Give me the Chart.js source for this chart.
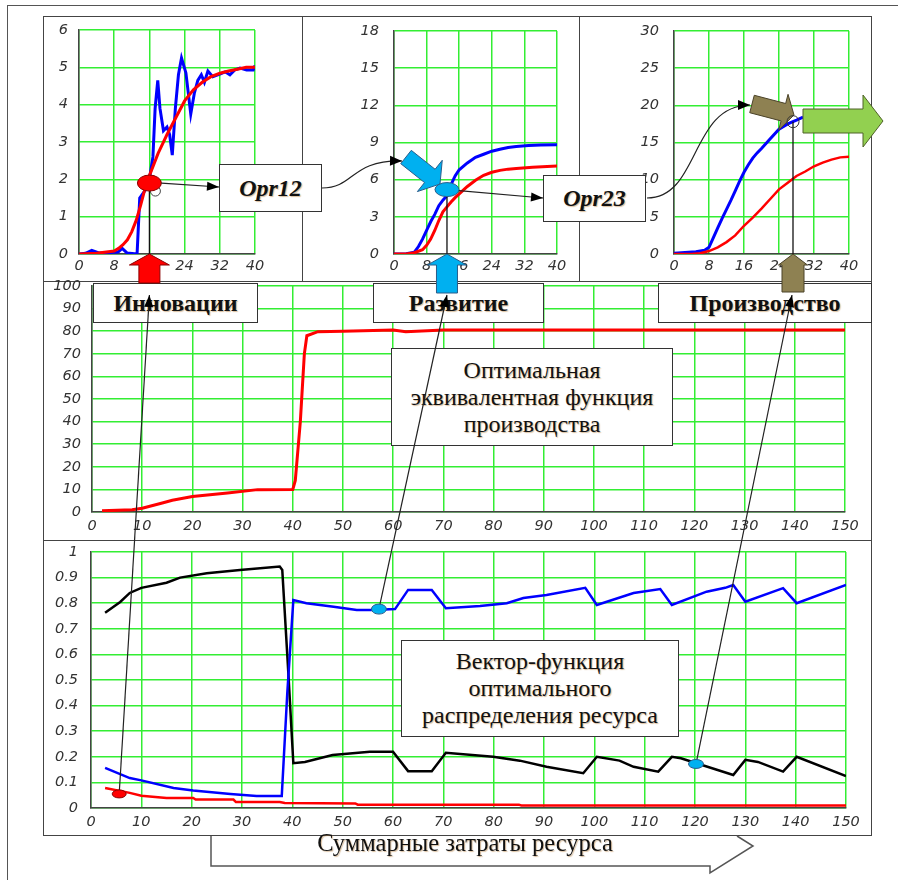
<!DOCTYPE html>
<html>
<head>
<meta charset="utf-8">
<script src="https://cdn.jsdelivr.net/npm/chart.js@4/dist/chart.umd.min.js"></script>
<style>
  body { margin: 0; background: #fff; width: 898px; height: 880px; position: relative; overflow: hidden; }
  .frame { position: absolute; border: 1.5px solid #444; box-sizing: border-box; background: #fff; }
  .box { position: absolute; border: 1.5px solid #333; box-sizing: border-box; background: #fff;
         display: flex; align-items: center; justify-content: center; text-align: center;
         font-family: 'Liberation Serif', 'Times New Roman', serif; color: #111;
         text-shadow: 1px 1px 1px rgba(170, 110, 40, 0.45); }
  .bold { font-weight: bold; font-size: 24px; }
  .opr { font-weight: bold; font-style: italic; font-size: 24px; }
  .note { font-size: 24px; line-height: 27px; }
  canvas { position: absolute; }
</style>
</head>
<body>
<div class="frame" style="left:7px;top:5px;width:900px;height:900px;border-color:#555"></div>
<div class="frame" style="left:43px;top:16px;width:260px;height:266px"></div>
<div class="frame" style="left:302px;top:16px;width:278px;height:266px"></div>
<div class="frame" style="left:579px;top:16px;width:293px;height:266px"></div>
<div class="frame" style="left:43px;top:281px;width:829px;height:260px"></div>
<div class="frame" style="left:43px;top:540px;width:829px;height:296px"></div>

<div id="charts"></div>

<div class="box opr" style="left:219px;top:164px;width:103px;height:48px">Opr12</div>
<div class="box opr" style="left:543px;top:175px;width:103px;height:47px">Opr23</div>
<div class="box bold" style="left:93px;top:283px;width:165px;height:40px">Инновации</div>
<div class="box bold" style="left:373px;top:283px;width:171px;height:40px">Развитие</div>
<div class="box bold" style="left:658px;top:283px;width:214px;height:40px">Производство</div>
<div class="box note" style="left:391px;top:348px;width:282px;height:98px">Оптимальная<br>эквивалентная функция<br>производства</div>
<div class="box note" style="left:401px;top:640px;width:278px;height:97px">Вектор-функция<br>оптимального<br>распределения ресурса</div>
<div style="position:absolute;left:205px;top:829px;width:520px;height:28px;line-height:28px;text-align:center;font-family:'Liberation Serif','Times New Roman',serif;font-size:24.5px;color:#111;text-shadow:1px 1px 1px rgba(170,110,40,0.45)">Суммарные затраты ресурса</div>

<canvas id="overlay" width="898" height="880" style="left:0;top:0"></canvas>

<script>
// Innovation stage (top left)
const innovRedX = [0, 4, 8, 9, 10, 11, 12, 13, 14, 15, 16, 17, 18, 19, 20, 22, 24, 26, 28, 30, 32, 34, 36, 38, 40];
const innovRed = [0, 0.02, 0.08, 0.15, 0.25, 0.38, 0.6, 0.9, 1.3, 1.75, 2.1, 2.4, 2.7, 2.95, 3.2, 3.65, 4.1, 4.4, 4.6, 4.75, 4.84, 4.9, 4.95, 5.0, 5.0];
const innovBlueX = [0, 1.5, 2.9, 4.5, 7, 8.9, 9.8, 10.9, 13.2, 13.8, 15, 16, 16.8, 17.3, 17.9, 18.4, 19.2, 20, 20.6, 21.2,
                    21.9, 22.6, 23.3, 24.3, 25.4, 26.2, 27, 27.8, 28.5, 29.3, 30.4, 32, 33.2, 34.3, 35.4, 36.6, 38.1, 39.6, 40];
const innovBlue = [0, 0.02, 0.1, 0.03, 0.04, 0.05, 0.15, 0.03, 0, 1.5, 1.7, 2.0, 2.6, 3.9, 4.65, 3.9, 3.3, 3.4, 3.2, 2.65,
                   3.9, 4.8, 5.25, 4.85, 3.75, 4.3, 4.65, 4.8, 4.6, 4.9, 4.75, 4.82, 4.88, 4.8, 4.93, 4.98, 4.93, 4.93, 5.05];

// Development stage (top middle)
const devBlueX = [0, 3, 5, 6, 7, 8, 9, 10, 11, 12, 13, 14, 15, 16, 18, 20, 22, 24, 26, 28, 30, 33, 36, 40];
const devBlue = [0, 0.02, 0.15, 0.6, 1.2, 1.9, 2.6, 3.2, 3.9, 4.35, 4.7, 5.6, 6.3, 6.8, 7.35, 7.8, 8.05, 8.3, 8.45, 8.6, 8.68, 8.75, 8.8, 8.82];
const devRedX = [0, 3, 5, 7, 8, 9, 10, 11, 12, 13, 14, 15, 16, 17, 18, 20, 22, 24, 26, 28, 30, 34, 40];
const devRed = [0, 0, 0.1, 0.35, 0.7, 1.2, 1.9, 2.7, 3.4, 3.8, 4.2, 4.55, 4.85, 5.15, 5.45, 5.95, 6.35, 6.6, 6.75, 6.85, 6.9, 7.0, 7.1];

// Production stage (top right)
const prodBlueX = [0, 5, 7, 8, 9, 10, 11, 12, 13, 14, 15, 16, 17, 18, 19, 20, 22, 24, 26, 28, 29.5];
const prodBlue = [0.1, 0.3, 0.5, 0.9, 2.2, 3.5, 4.8, 6.0, 7.2, 8.5, 9.8, 11.0, 12.0, 12.9, 13.6, 14.2, 15.5, 16.8, 17.5, 18.0, 18.4];
const prodRedX = [0, 4, 6, 8, 10, 12, 14, 16, 18, 20, 22, 24, 26, 28, 30, 32, 34, 36, 38, 40];
const prodRed = [0, 0, 0.1, 0.4, 0.9, 1.6, 2.5, 3.8, 4.9, 6.1, 7.4, 8.7, 9.6, 10.5, 11.1, 11.8, 12.3, 12.7, 13.0, 13.1];

// Equivalent production function (middle)
const equivX = [2, 8, 10, 14, 16, 20, 27, 33, 40, 40.5, 41.5, 42.3, 42.8, 45, 50, 60, 62.5, 70, 150];
const equiv = [0.5, 1, 1.7, 4, 5.2, 6.9, 8.4, 9.9, 10, 14, 40, 70, 78, 79.8, 80, 80.5, 79.8, 80.5, 80.5];

// Resource distribution vector (bottom)
const distBlackX = [2.8, 5.8, 7.7, 10, 15, 17.7, 23, 29.6, 37.5, 38, 39.2, 40.2, 42.5, 48, 55.4, 60, 63, 67.7, 70.5, 79.9,
                    85.2, 90.5, 97.8, 100.5, 105, 107.8, 112.7, 115.4, 117.2, 127.6, 130, 132.5, 137.5, 140.2, 150];
const distBlack = [0.763, 0.805, 0.84, 0.86, 0.88, 0.9, 0.917, 0.93, 0.943, 0.93, 0.53, 0.175, 0.18, 0.207, 0.22, 0.22, 0.144, 0.144, 0.216, 0.2,
                   0.185, 0.161, 0.136, 0.2, 0.185, 0.161, 0.142, 0.2, 0.194, 0.129, 0.188, 0.18, 0.142, 0.2, 0.125];
const distBlueX = [2.8, 7.7, 10, 16.4, 20.3, 27.7, 32.9, 37.9, 39, 40.2, 42.8, 48.2, 52.8, 55.9, 60.4, 63, 67.7, 70.5, 77.3, 82.6,
                   85.9, 90.5, 98.2, 100.5, 107.8, 113.1, 115.4, 122.3, 126, 127.6, 130, 137.5, 140.2, 150];
const distBlue = [0.157, 0.117, 0.108, 0.078, 0.068, 0.055, 0.047, 0.047, 0.45, 0.812, 0.8, 0.786, 0.773, 0.773, 0.777, 0.852, 0.852, 0.78, 0.789, 0.8,
                  0.82, 0.832, 0.86, 0.793, 0.84, 0.855, 0.793, 0.845, 0.86, 0.871, 0.806, 0.859, 0.8, 0.871];
const distRedX = [2.8, 7.7, 10, 15, 20.3, 20.8, 28.3, 28.8, 37.5, 38.5, 52.5, 53, 85, 85.5, 150];
const distRed = [0.078, 0.059, 0.048, 0.039, 0.039, 0.033, 0.033, 0.023, 0.023, 0.02, 0.018, 0.013, 0.013, 0.01, 0.01];

// highlighted points
const innovMark = [16, 1.9];
const devMark = [13, 5.2];
const prodMark = [27.2, 17.8];
const distMarks = [[5.6, 0.055], [57.2, 0.777], [120.2, 0.172]];

const GRID = '#33ee33';
const TICK_FONT = {family: "'DejaVu Sans', sans-serif", style: 'italic', size: 14.5};

function series(xs, ys, color, width) {
  return {data: xs.map((x, i) => ({x: x, y: ys[i]})), borderColor: color, borderWidth: width,
          pointRadius: 0, tension: 0, fill: false};
}

function makeChart(box, xMax, xStep, yMax, yStep, yPad, datasets) {
  // y tick padding also pads the top of the axis, so leave room for it
  const padT = yPad + 12;
  const cv = document.createElement('canvas');
  cv.width = box.yW + box.w + box.padR;
  cv.height = padT + box.h + box.xH;
  cv.style.left = (box.l - box.yW) + 'px';
  cv.style.top = (box.t - padT) + 'px';
  document.getElementById('charts').appendChild(cv);
  const axis = (max, step, pad, fit) => ({
    type: 'linear', min: 0, max: max,
    ticks: {stepSize: step, font: TICK_FONT, color: '#333', padding: pad, maxRotation: 0, autoSkip: false,
            callback: v => String(Math.round(v * 10) / 10)},
    grid: {color: GRID, lineWidth: 1.5, drawTicks: false},
    border: {color: '#444', width: 1.5},
    afterFit: fit
  });
  return new Chart(cv, {
    type: 'line',
    data: {datasets: datasets},
    options: {
      responsive: false,
      animation: false,
      layout: {padding: {top: padT, right: box.padR, left: 0, bottom: 0}},
      plugins: {legend: {display: false}, tooltip: {enabled: false}},
      scales: {
        x: axis(xMax, xStep, box.xPad, s => { s.height = box.xH; }),
        y: axis(yMax, yStep, yPad, s => { s.width = box.yW; })
      }
    }
  });
}

const chA = makeChart({l: 79, t: 30, w: 176, h: 224, yW: 34, padR: 18, xH: 26, xPad: 4}, 40, 8, 6, 1, 11,
  [series(innovRedX, innovRed, '#ff0000', 3), series(innovBlueX, innovBlue, '#0000ff', 3)]);
const chB = makeChart({l: 394, t: 31, w: 163, h: 223, yW: 54, padR: 20, xH: 26, xPad: 4}, 40, 8, 18, 3, 15,
  [series(devRedX, devRed, '#ff0000', 3), series(devBlueX, devBlue, '#0000ff', 3)]);
const chC = makeChart({l: 674, t: 31, w: 175, h: 223, yW: 54, padR: 20, xH: 26, xPad: 4}, 40, 8, 30, 5, 15,
  [series(prodRedX, prodRed, '#ff0000', 2.5), series(prodBlueX, prodBlue, '#0000ff', 3)]);
const chD = makeChart({l: 92, t: 286, w: 753, h: 226, yW: 46, padR: 24, xH: 26, xPad: 6}, 150, 10, 100, 10, 11,
  [series(equivX, equiv, '#ff0000', 3)]);
const chE = makeChart({l: 91, t: 552, w: 755, h: 256, yW: 45, padR: 24, xH: 26, xPad: 6}, 150, 10, 1, 0.1, 13,
  [series(distRedX, distRed, '#ff0000', 2.5), series(distBlueX, distBlue, '#0000ff', 2.5), series(distBlackX, distBlack, '#000000', 2.5)]);

// ---- annotation layer ----
const g = document.getElementById('overlay').getContext('2d');

function at(ch, x, y) {
  return [parseFloat(ch.canvas.style.left) + ch.scales.x.getPixelForValue(x),
          parseFloat(ch.canvas.style.top) + ch.scales.y.getPixelForValue(y)];
}

function head(from, to, len, w) {
  const a = Math.atan2(to[1] - from[1], to[0] - from[0]);
  const c = Math.cos(a), s = Math.sin(a);
  g.beginPath();
  g.moveTo(to[0], to[1]);
  g.lineTo(to[0] - len * c + w * s, to[1] - len * s - w * c);
  g.lineTo(to[0] - len * c - w * s, to[1] - len * s + w * c);
  g.closePath();
  g.fillStyle = '#000';
  g.fill();
}

function line(a, b, lw, color) {
  g.beginPath();
  g.moveTo(a[0], a[1]);
  g.lineTo(b[0], b[1]);
  g.strokeStyle = color || '#222';
  g.lineWidth = lw;
  g.stroke();
}

function arrow(a, b, lw) {
  line(a, b, lw);
  head(a, b, 12, 4.5);
}

function curveArrow(p0, p1, p2, p3) {
  g.beginPath();
  g.moveTo(p0[0], p0[1]);
  g.bezierCurveTo(p1[0], p1[1], p2[0], p2[1], p3[0], p3[1]);
  g.strokeStyle = '#222';
  g.lineWidth = 1.2;
  g.stroke();
  head(p2, p3, 12, 5);
}

function blockArrow(tail, tip, sw, hw, hl, fill, stroke) {
  const dx = tip[0] - tail[0], dy = tip[1] - tail[1], L = Math.hypot(dx, dy);
  const ux = dx / L, uy = dy / L, nx = -uy, ny = ux;
  const bx = tip[0] - ux * hl, by = tip[1] - uy * hl;
  const pts = [
    [tail[0] + nx * sw / 2, tail[1] + ny * sw / 2], [bx + nx * sw / 2, by + ny * sw / 2],
    [bx + nx * hw / 2, by + ny * hw / 2], tip, [bx - nx * hw / 2, by - ny * hw / 2],
    [bx - nx * sw / 2, by - ny * sw / 2], [tail[0] - nx * sw / 2, tail[1] - ny * sw / 2]
  ];
  g.beginPath();
  pts.forEach((p, i) => i ? g.lineTo(p[0], p[1]) : g.moveTo(p[0], p[1]));
  g.closePath();
  g.fillStyle = fill;
  g.fill();
  g.strokeStyle = stroke;
  g.lineWidth = 1;
  g.stroke();
}

function ellipse(c, rx, ry, fill, stroke) {
  g.beginPath();
  g.ellipse(c[0], c[1], rx, ry, 0, 0, Math.PI * 2);
  if (fill) { g.fillStyle = fill; g.fill(); }
  g.strokeStyle = stroke;
  g.lineWidth = 1;
  g.stroke();
}

const pA = at(chA, innovMark[0], innovMark[1]);
const pA0 = at(chA, innovMark[0], 0);
const pB = at(chB, devMark[0], devMark[1]);
const pB0 = at(chB, devMark[0], 0);
const pC = at(chC, prodMark[0], prodMark[1]);
const pC0 = at(chC, prodMark[0], 0);
const dE = distMarks.map(d => at(chE, d[0], d[1]));

// drop lines from the marked points
line(pA, pA0, 1.3, '#111');
line(pB, pB0, 1.3, '#111');
line(pC, pC0, 1.3, '#111');

// stage arrows under the small charts
blockArrow([pA0[0], 283], pA0, 21, 40, 11, '#ff0000', '#8a0000');
blockArrow([pB0[0], 293], pB0, 21, 39, 11, '#00b0f0', '#2a5d8a');
blockArrow([pC0[0], 292], pC0, 22, 29, 11, '#8e8152', '#4a4228');

// transition arrows between stages
blockArrow([406, 157], [440, 184], 17, 40, 13, '#00b0f0', '#2a5d8a');
blockArrow([752, 104], [794, 115], 18, 37, 11, '#8e8152', '#4a4228');
blockArrow([803, 121], [883, 121], 24, 52, 20, '#92d050', '#4f6228');

curveArrow([322, 188], [355, 188], [350, 160], [402, 161]);
curveArrow([647, 198], [700, 198], [690, 105], [750, 105]);

ellipse([pA[0] + 6, pA[1] + 8], 5, 5, null, '#444');
ellipse(pA, 12, 8, '#ff0000', '#8a0000');
ellipse(pB, 12, 7, '#00b0f0', '#2a5d8a');
ellipse(pC, 6, 6, null, '#333');

arrow([pA[0] + 12, pA[1]], [219, 187], 1.2);
arrow([pB[0] + 12, pB[1] + 1], [543, 198], 1.2);

// links from the distribution points up to the stage boxes
arrow(dE[0], [pA0[0], 295], 1.2);
arrow(dE[1], [pB0[0], 295], 1.2);
arrow(dE[2], [pC0[0] - 1, 295], 1.2);
ellipse(dE[0], 7, 4, '#ff0000', '#8a0000');
ellipse(dE[1], 7.5, 5, '#00b0f0', '#2a5d8a');
ellipse(dE[2], 7.5, 4.5, '#00b0f0', '#2a5d8a');

// outline arrow below the bottom panel
g.beginPath();
[[211, 836], [211, 866], [710, 866], [710, 873], [753, 846], [737, 836]].forEach((p, i) => i ? g.lineTo(p[0], p[1]) : g.moveTo(p[0], p[1]));
g.strokeStyle = '#555';
g.lineWidth = 1.5;
g.stroke();
</script>
</body>
</html>
